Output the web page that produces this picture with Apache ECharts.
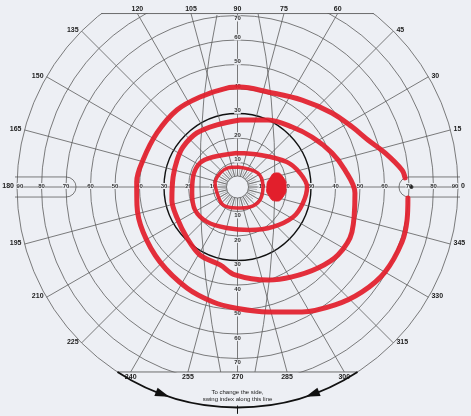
<!DOCTYPE html>
<html><head><meta charset="utf-8">
<script src="https://cdn.jsdelivr.net/npm/echarts@6/dist/echarts.min.js"></script>
<style>html,body{margin:0;padding:0;background:#edeff4}#c{width:471px;height:416px}</style>
</head><body><div id="c"></div>
<script>
// ---- chart data (degrees of visual field) ----
const meridianAngles = [0,15,30,45,60,75,90,105,120,135,150,165,180,195,210,225,240,255,270,285,300,315,330,345];
const circleRadii = [10,20,30,40,50,60,70,80,90];
const verticalTickLabels = [10,20,30,40,50,60,70];
const horizontalTickLabels = [10,20,30,40,50,60,70,80,90];
const topCut = 70.8;      // chart sheet cut at top (deg along vertical)
const bottomCut = 75.5;   // chart sheet cut at bottom
const innerRing = 4.5;
const tongueInner = 70, tongueOuter = 90, tongueHalf = 4.1;
// curved guide lines near vertical meridian: [radius, angle]
const leftGuide = [[70.7,96.8],[15.3,180],[75.8,264.8]];
const rightGuide = [[71.1,83.2],[15.3,0],[75.8,275.4]];
// isopters [radius, angle]
const isopterOuter = [[69.7,356.3],[70.5,349],[70.8,341.5],[69.5,330],[66.5,319.9],[62.5,309.6],[57.4,297.3],[52.5,283.7],[49.4,268.8],[48.0,258],[46.1,243.4],[44.0,224],[42.7,205.5],[41.7,190.2],[41.2,177],[40.1,164],[39.6,146.1],[40.0,128.2],[39.8,112.6],[40.6,96.1],[40.8,88.6],[40.7,72.2],[44.2,53.4],[49.0,38.1],[52.8,27.7],[56.6,19.8],[61.8,13.0],[67.5,5.9],[68.5,3.1]];
const isopterMiddle = [[27.4,87.9],[30.0,65.5],[33.1,47.7],[36.6,33.9],[41.0,19.8],[44.4,9.0],[48.0,357.1],[50.2,338.5],[49.5,325.9],[46.6,314.8],[42.9,301.2],[40.0,288.2],[35.9,268.4],[32.6,257.4],[31.7,241.1],[29.3,225.3],[27.7,207.1],[27.3,191.2],[26.6,171.2],[27.0,155.9],[27.6,143.7],[27.6,126.9],[26.7,108.3]];
const isopterInner = [[13.9,90.8],[16.0,54.9],[22.6,26.8],[26.1,12.6],[28.4,0],[27.5,346.3],[25.8,331.6],[21.8,311.6],[18.3,286.2],[17.3,255.6],[18.9,228.9],[19.7,208.4],[18.7,187.5],[18.6,167.3],[18.2,147.4],[15.8,129.2]];
const isopterCentral = [[8.2,88.6],[10.1,34.3],[10.4,0],[10.6,330],[9.6,302],[8.6,268.6],[9.4,231.1],[8.7,196.3],[9.3,169.9],[9.1,141.3],[8.7,116.6]];
const blindSpot = [[13.8,15.5],[16.7,20],[19.0,12.4],[19.8,0],[19.0,347.6],[16.7,340],[13.4,344],[12.0,0]];
const fixationDot = [[71,0]];
const noteLines = ['To change the side,', 'swing index along this line'];

// ---- styles ----
const BG = '#edeff4';
const GRID = '#5c5c5c';
const RED = '#e21f2c';
const FONT = '"Liberation Sans", Arial, sans-serif';

function rEnd(a){
  const s = Math.sin(a*Math.PI/180);
  if (s > 1e-6) return Math.min(90, topCut/s);
  if (s < -1e-6) return Math.min(90, bottomCut/(-s));
  return 90;
}
const closed = arr => arr.concat([arr[0]]);
function cs(name, data, renderItem){
  return {type:'custom', name, coordinateSystem:'polar', data, renderItem, silent:true, animation:false};
}

const chart = echarts.init(document.getElementById('c'), null, {renderer:'canvas'});
const option = {
  backgroundColor: BG,
  animation: false,
  polar: {center:[237.5,187], radius:220.5},
  radiusAxis: {type:'value', min:0, max:90, axisLine:{show:false}, axisTick:{show:false}, axisLabel:{show:false}, splitLine:{show:false}},
  angleAxis: {type:'value', min:0, max:360, startAngle:0, clockwise:false, axisLine:{show:false}, axisTick:{show:false}, axisLabel:{show:false}, splitLine:{show:false}},
  series: [
    // circles
    cs('circles', circleRadii.map(r=>[r,0]), (p, api) => {
      const c = api.coord([0,0]); const v = api.value(0);
      const r = api.coord([v,0])[0]-c[0];
      return {type:'circle', shape:{cx:c[0],cy:c[1],r}, style:{fill:'none', stroke: v===30?'#111':GRID, lineWidth: v===30?1.4:0.8}};
    }),
    // meridians
    cs('meridians', meridianAngles.map(a=>[rEnd(a),a]), (p, api) => {
      const a = api.value(1);
      const p1 = api.coord([innerRing,a]), p2 = api.coord([api.value(0),a]);
      return {type:'line', shape:{x1:p1[0],y1:p1[1],x2:p2[0],y2:p2[1]}, style:{stroke:GRID, lineWidth:0.8}};
    }),
    // inner ring with ticks
    cs('innerRing', [[innerRing,0]], (p, api) => {
      const c = api.coord([0,0]);
      const r = api.coord([innerRing,0])[0]-c[0];
      const ch = [{type:'circle', shape:{cx:c[0],cy:c[1],r}, style:{fill:'none', stroke:GRID, lineWidth:0.8}}];
      for (let a = 0; a < 360; a += 7.5) {
        const q1 = api.coord([innerRing,a]), q2 = api.coord([8,a]);
        ch.push({type:'line', shape:{x1:q1[0],y1:q1[1],x2:q2[0],y2:q2[1]}, style:{stroke:'#777', lineWidth:0.5}});
      }
      return {type:'group', children:ch};
    }),
    // curved guides
    cs('guides', [[0,0]], (p, api) => {
      const ch = [leftGuide, rightGuide].map(g => {
        const a = api.coord(g[0]), m = api.coord(g[1]), b = api.coord(g[2]);
        const cp = [2*m[0]-(a[0]+b[0])/2, 2*m[1]-(a[1]+b[1])/2];
        return {type:'bezierCurve', shape:{x1:a[0],y1:a[1],x2:b[0],y2:b[1],cpx1:cp[0],cpy1:cp[1]}, style:{fill:'none', stroke:GRID, lineWidth:0.8}};
      });
      return {type:'group', children:ch};
    }),
    // tongues on horizontal meridian
    cs('tongues', [[0,0]], (p, api) => {
      const c = api.coord([0,0]);
      const k = (api.coord([10,0])[0]-c[0])/10;
      const w = tongueHalf*k, xi = tongueInner*k, xo = tongueOuter*k + 2;
      const y0 = c[1];
      const R = `M${c[0]+xo} ${y0-w} L${c[0]+xi} ${y0-w} A${w} ${w} 0 0 0 ${c[0]+xi} ${y0+w} L${c[0]+xo} ${y0+w}`;
      const L = `M${c[0]-xo} ${y0-w} L${c[0]-xi} ${y0-w} A${w} ${w} 0 0 1 ${c[0]-xi} ${y0+w} L${c[0]-xo} ${y0+w}`;
      return {type:'group', children:[
        {type:'path', shape:{pathData:R}, style:{fill:'none', stroke:GRID, lineWidth:0.8}},
        {type:'path', shape:{pathData:L}, style:{fill:'none', stroke:GRID, lineWidth:0.8}}
      ]};
    }),
    // sheet cut mask + cut lines
    cs('cut', [[0,0]], (p, api) => {
      const ta = Math.asin(topCut/90)*180/Math.PI, ba = Math.asin(bottomCut/90)*180/Math.PI;
      const t1 = api.coord([90,ta]), t2 = api.coord([90,180-ta]);
      const b1 = api.coord([90,360-ba]), b2 = api.coord([90,180+ba]);
      return {type:'group', children:[
        {type:'rect', shape:{x:0,y:0,width:471,height:t1[1]-0.5}, style:{fill:BG}},
        {type:'rect', shape:{x:0,y:b1[1]+0.5,width:471,height:60}, style:{fill:BG}},
        {type:'line', shape:{x1:t2[0],y1:t1[1],x2:t1[0],y2:t1[1]}, style:{stroke:GRID, lineWidth:0.9}},
        {type:'line', shape:{x1:b2[0],y1:b1[1],x2:b1[0],y2:b1[1]}, style:{stroke:GRID, lineWidth:0.9}}
      ]};
    }),
    // radial tick labels on vertical & horizontal meridians
    cs('radialLabels', [[0,0]], (p, api) => {
      const ch = [];
      const txt = (pt, s) => ({type:'text', x:pt[0], y:pt[1], style:{text:s, fill:'#333', font:`600 6px ${FONT}`, align:'center', verticalAlign:'middle', backgroundColor:BG, padding:[0,0]}});
      verticalTickLabels.forEach(v => {
        ch.push(txt(api.coord([v===70 ? v-1.2 : v+1.1, 90]), String(v)));
        ch.push(txt(api.coord([v+1.6, 270]), String(v)));
      });
      horizontalTickLabels.forEach(v => {
        const rr = v===90 ? 88.8 : v;
        const a = api.coord([rr,0]), b = api.coord([rr,180]);
        ch.push(txt([a[0],a[1]-1], String(v)));
        ch.push(txt([b[0],b[1]-1], String(v)));
      });
      return {type:'group', children:ch};
    }),
    // meridian labels
    cs('meridianLabels', meridianAngles.map(a=>[rEnd(a),a]), (p, api) => {
      const a = api.value(1), r = api.value(0);
      const pt = api.coord([r,a]);
      const rad = a*Math.PI/180;
      let x = pt[0], y = pt[1], align = 'center', va = 'middle';
      if (r < 89.99) {
        if (Math.sin(rad) > 0) { y = pt[1]-1; va = 'bottom'; } else { y = pt[1]+1.5; va = 'top'; }
      } else {
        if (Math.cos(rad) > 0) { x = pt[0]+3; align = 'left'; } else { x = pt[0]-3; align = 'right'; }
        y = pt[1]-1;
      }
      return {type:'text', x, y, style:{text:String(a), fill:'#222', font:`600 7px ${FONT}`, align, verticalAlign:va}};
    }),
    // isopters
    {type:'line', coordinateSystem:'polar', data:isopterOuter, smooth:0.35, symbol:'none', silent:true,
     lineStyle:{color:RED, width:5, cap:'round', join:'round', opacity:0.93}},
    {type:'line', coordinateSystem:'polar', data:closed(isopterMiddle), smooth:0.35, symbol:'none', silent:true,
     lineStyle:{color:RED, width:5, cap:'round', join:'round', opacity:0.93}},
    {type:'line', coordinateSystem:'polar', data:closed(isopterInner), smooth:0.35, symbol:'none', silent:true,
     lineStyle:{color:RED, width:4.5, cap:'round', join:'round', opacity:0.93}},
    {type:'line', coordinateSystem:'polar', data:closed(isopterCentral), smooth:0.35, symbol:'none', silent:true,
     lineStyle:{color:RED, width:3.5, cap:'round', join:'round', opacity:0.93}},
    // blind spot
    cs('blindSpot', [[0,0]], (p, api) => ({
      type:'polygon', shape:{points: blindSpot.map(d => api.coord(d)), smooth:0.6},
      style:{fill:RED, stroke:RED, lineWidth:1}
    })),
    {type:'scatter', coordinateSystem:'polar', data:fixationDot, symbolSize:4, itemStyle:{color:'#111'}, silent:true},
    // swing index arc + note
    cs('swing', [[0,0]], (p, api) => {
      const c = api.coord([0,0]);
      const R = api.coord([90,0])[0]-c[0];
      const cutA = Math.asin(bottomCut/90);
      const arrow = (tip, base) => {
        const t = api.coord([90,tip]), b1 = api.coord([91.8,base]), b2 = api.coord([88.2,base]);
        return {type:'polygon', shape:{points:[t,b1,b2]}, style:{fill:'#111'}};
      };
      const k1 = api.coord([89.2,270]), k2 = api.coord([92.6,270]);
      const bottom = c[1]+R;
      return {type:'group', children:[
        {type:'arc', shape:{cx:c[0],cy:c[1],r:R,startAngle:cutA,endAngle:Math.PI-cutA,clockwise:true}, style:{fill:'none', stroke:'#111', lineWidth:1.8}},
        arrow(252,248.3), arrow(288,291.7),
        {type:'line', shape:{x1:k1[0],y1:k1[1],x2:k2[0],y2:k2[1]}, style:{stroke:'#111', lineWidth:1}},
        {type:'text', x:c[0], y:bottom-15.5, style:{text:noteLines[0], fill:'#222', font:`6px ${FONT}`, align:'center', verticalAlign:'middle'}},
        {type:'text', x:c[0], y:bottom-8.5, style:{text:noteLines[1], fill:'#222', font:`6px ${FONT}`, align:'center', verticalAlign:'middle'}}
      ]};
    })
  ]
};
chart.setOption(option);
</script>
</body></html>
